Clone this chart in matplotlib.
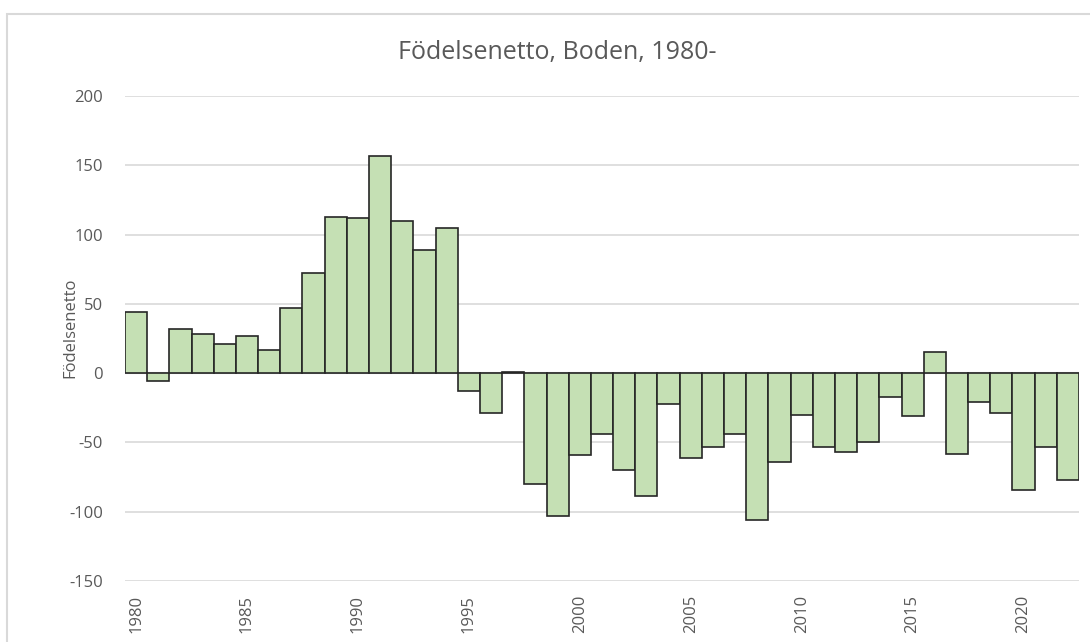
import matplotlib
matplotlib.use("Agg")
import matplotlib.pyplot as plt
from matplotlib.patches import Rectangle

# Födelsenetto per år, Boden
years = list(range(1980, 2023))
netto = [44, -6, 32, 28, 21, 27, 17, 47, 72, 113,
         112, 157, 110, 89, 105, -13, -29, 1, -80, -103,
         -59, -44, -70, -89, -22, -61, -53, -44, -106, -64,
         -30, -53, -57, -50, -17, -31, 15, -58, -21, -29,
         -84, -53, -77]
yticks = [-150, -100, -50, 0, 50, 100, 150, 200]
label_years = [1980, 1985, 1990, 1995, 2000, 2005, 2010, 2015, 2020]

plt.rcParams['font.family'] = ['Open Sans', 'DejaVu Sans']
txt = '#595959'

fig = plt.figure(figsize=(10.9, 6.42), dpi=100)
ax = fig.add_axes([125 / 1090, 1 - 581 / 642, 954 / 1090, 485 / 642])

x = list(range(len(years)))
ax.bar(x, netto, width=1.0, color='#c5e0b4', edgecolor='#262626',
       linewidth=1.2, zorder=3)

ax.set_xlim(-0.5, len(years) - 0.5)
ax.set_ylim(-150, 200)
ax.set_yticks(yticks)
ax.set_yticklabels([str(v) for v in yticks])
ax.yaxis.grid(True, color='#d9d9d9', linewidth=1.2, zorder=0)
ax.axhline(0, color='#bfbfbf', linewidth=1.5, zorder=2)

ax.set_xticks([years.index(y) for y in label_years])
ax.set_xticklabels([str(y) for y in label_years], rotation=90)
ax.tick_params(axis='both', length=0, colors=txt, labelsize=12)
ax.tick_params(axis='y', pad=16)
ax.tick_params(axis='x', pad=10)
for s in ax.spines.values():
    s.set_visible(False)

fig.text(557 / 1090, 1 - 53 / 642, 'Födelsenetto, Boden, 1980-',
         ha='center', va='center', fontsize=18, color=txt)
fig.text(70 / 1090, 1 - 328 / 642, 'Födelsenetto', rotation=90,
         ha='center', va='center', fontsize=12, color=txt)

# ram runt diagrammet
fig.patches.append(Rectangle((7 / 1090, -0.1), 1.2, 1 - 14 / 642 + 0.1,
                             transform=fig.transFigure, fill=False,
                             edgecolor='#d9d9d9', linewidth=1.5))

fig.savefig('out.png', dpi=100)
